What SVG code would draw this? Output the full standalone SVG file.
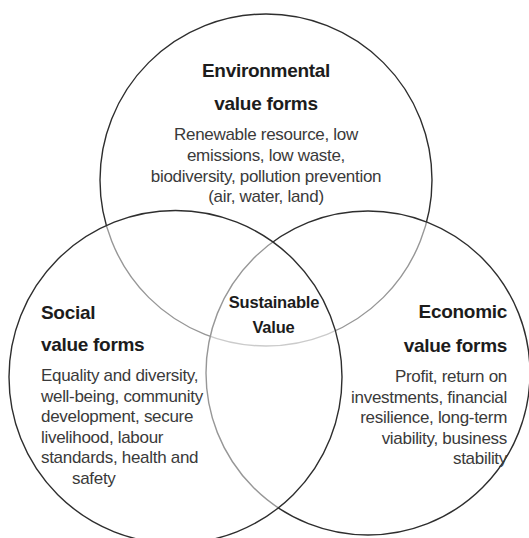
<svg xmlns="http://www.w3.org/2000/svg" width="529" height="538" viewBox="0 0 529 538">
<style>
.c{fill:#fff;fill-opacity:0.5;stroke:#2e2e2e;stroke-width:1.4}
.h{font-family:"Liberation Sans",Arial,sans-serif;font-weight:bold;font-size:19px;letter-spacing:-0.3px;fill:#1c1c1c}
.b{font-family:"Liberation Sans",Arial,sans-serif;font-size:17px;letter-spacing:-0.3px;fill:#3a3a3a}
.s{font-family:"Liberation Sans",Arial,sans-serif;font-weight:bold;font-size:16.5px;letter-spacing:-0.2px;fill:#1c1c1c}
</style>
<rect width="529" height="538" fill="#fff"/>
<g id="circles">
<circle id="env-circle" class="c" cx="266" cy="180" r="166"/>
<circle id="eco-circle" class="c" cx="368" cy="373" r="162"/>
<circle id="soc-circle" class="c" cx="175.5" cy="377" r="166.5"/>
</g>
<g id="environmental" text-anchor="middle">
<text class="h" x="266" y="77">Environmental</text>
<text class="h" x="266" y="110">value forms</text>
<text class="b" x="266" y="140">Renewable resource, low</text>
<text class="b" x="266" y="161">emissions, low waste,</text>
<text class="b" x="266" y="181.5">biodiversity, pollution prevention</text>
<text class="b" x="266" y="202">(air, water, land)</text>
</g>
<g id="social">
<text class="h" x="41" y="319">Social</text>
<text class="h" x="41" y="351">value forms</text>
<text class="b" x="41" y="381">Equality and diversity,</text>
<text class="b" x="41" y="401.5">well-being, community</text>
<text class="b" x="41" y="422">development, secure</text>
<text class="b" x="41" y="442.5">livelihood, labour</text>
<text class="b" x="41" y="463">standards, health and</text>
<text class="b" x="72" y="483.5">safety</text>
</g>
<g id="economic" text-anchor="end">
<text class="h" x="507" y="318">Economic</text>
<text class="h" x="507" y="352">value forms</text>
<text class="b" x="507" y="382">Profit, return on</text>
<text class="b" x="507" y="402.5">investments, financial</text>
<text class="b" x="507" y="423">resilience, long-term</text>
<text class="b" x="507" y="443.5">viability, business</text>
<text class="b" x="507" y="464">stability</text>
</g>
<g id="sustainable" text-anchor="middle">
<text class="s" x="274" y="308">Sustainable</text>
<text class="s" x="273.5" y="333">Value</text>
</g>
</svg>
